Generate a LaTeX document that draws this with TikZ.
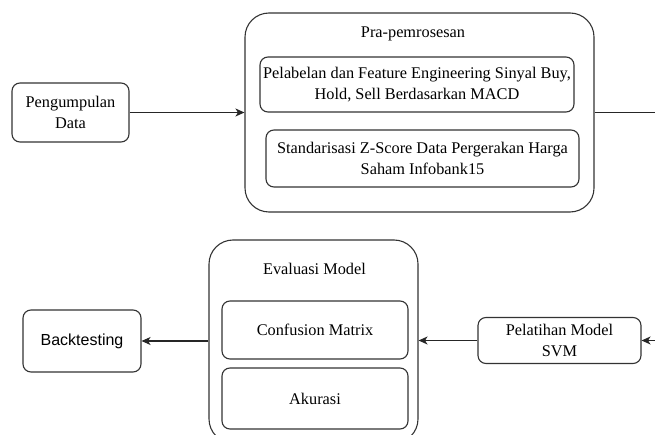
\documentclass[tikz,border=0pt]{standalone}
\usepackage{fontspec}
\setmainfont{Liberation Serif}
\newfontfamily\sansf{Liberation Sans}
\usetikzlibrary{arrows.meta}
\begin{document}
\begin{tikzpicture}[x=1pt,y=-1pt,
  box/.style={draw=black!80, line width=1.1pt, rounded corners=8pt, align=center,
    inner sep=0pt, font=\fontsize{16.3}{21}\selectfont},
  bigbox/.style={box, rounded corners=24pt},
  lbl/.style={inner sep=0pt, font=\fontsize{16.3}{21}\selectfont},
  conn/.style={draw=black!85, line width=1.1pt},
  arr/.style={conn, -{Stealth[length=9pt,width=8pt,inset=2.5pt]}}
]
\useasboundingbox (0,0) rectangle (655,435);
\clip (0,0) rectangle (655,435);

% top row
\node[box, minimum width=117pt, minimum height=59pt] (peng) at (70.5,112.5) {Pengumpulan\\Data};
\node[bigbox, minimum width=349pt, minimum height=199pt] (pra) at (419.5,112.5) {};
\node[lbl] (praT) at (413,34) {Pra-pemrosesan};
\node[box, minimum width=314pt, minimum height=55pt] (pel) at (417,84.5)
  {Pelabelan dan Feature Engineering Sinyal Buy,\\Hold, Sell Berdasarkan MACD};
\node[box, minimum width=313pt, minimum height=57pt] (std) at (422.5,158.5)
  {Standarisasi Z-Score Data Pergerakan Harga\\Saham Infobank15};
\coordinate (outR) at (655,112.5);

% bottom row
\node[box, minimum width=118pt, minimum height=62pt, font=\sansf\fontsize{16}{20}\selectfont] (back) at (82,341) {Backtesting};
\node[bigbox, minimum width=209pt, minimum height=203pt] (eval) at (313.5,341.5) {};
\node[lbl] (evalT) at (314.5,269) {Evaluasi Model};
\node[box, minimum width=186pt, minimum height=58pt] (conf) at (315,330) {Confusion Matrix};
\node[box, minimum width=186pt, minimum height=61pt] (aku) at (315,398.5) {Akurasi};
\node[box, minimum width=163pt, minimum height=46pt] (svm) at (559.5,340.5) {Pelatihan Model\\SVM};
\coordinate (inR) at (655,340.5);

% connectors
\draw[arr] (peng.east) -- (peng.east -| pra.west);
\draw[conn] (pra.east |- outR) -- (outR);
\draw[arr] (eval.west |- back.east) -- (back.east);
\draw[arr] (svm.west) -- (svm.west -| eval.east);
\draw[arr] (inR) -- (svm.east);
\end{tikzpicture}
\end{document}
